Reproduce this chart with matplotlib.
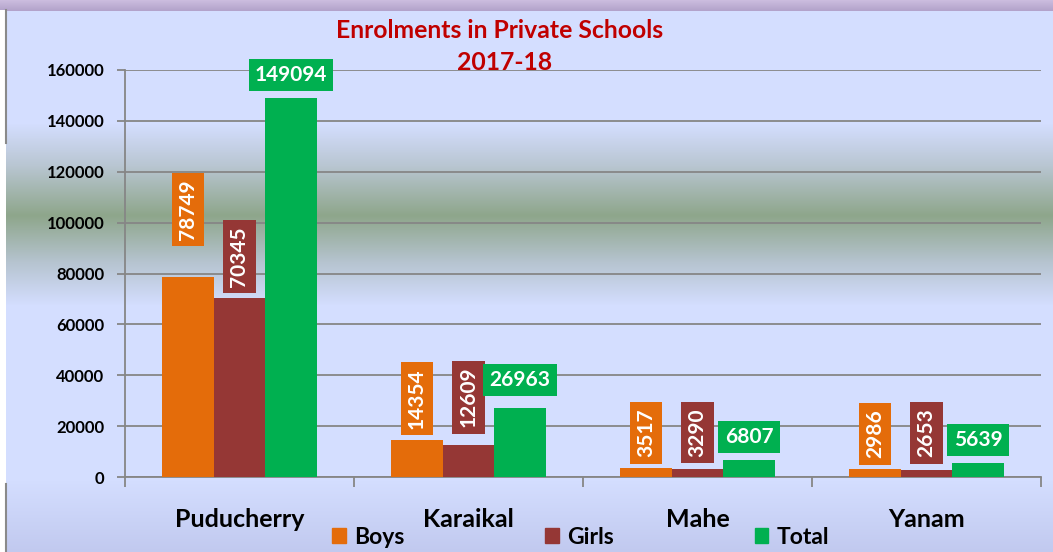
import numpy as np
import matplotlib
matplotlib.use("Agg")
import matplotlib.pyplot as plt
from matplotlib.colors import to_rgb
from matplotlib.patches import Patch

plt.rcParams['font.family'] = ['Lato', 'DejaVu Sans']

# === data ===
regions = ['Puducherry', 'Karaikal', 'Mahe', 'Yanam']
boys = [78749, 14354, 3517, 2986]
girls = [70345, 12609, 3290, 2653]
total = [149094, 26963, 6807, 5639]

# where Excel had the data labels dragged to (centre of the label box, data units)
lab_y_boys = [105000, 30700, 17300, 16900]
lab_y_girls = [86500, 31400, 17300, 17300]
lab_y_total = [158000, 38100, 15700, 14500]

c_boys = '#e46c0a'
c_girls = '#953735'
c_total = '#00b050'
c_grid = '#868686'

W, H = 1053, 552
fig = plt.figure(figsize=(W / 100, H / 100), dpi=100)

# background gradient (pixel row -> colour)
stops = [(0, '#cbbcde'), (10, '#b3a3cb'), (10.5, '#d4deff'), (123, '#d4deff'),
         (165, '#b9c6d2'), (215, '#8ea68b'), (262, '#b6c4d0'), (305, '#d4deff'),
         (480, '#d4deff'), (552, '#c1c9ef')]
ys = np.arange(H)
cols = np.array([to_rgb(c) for _, c in stops])
pos = [p for p, _ in stops]
grad = np.stack([np.interp(ys, pos, cols[:, k]) for k in range(3)], axis=1)
img = np.repeat(grad[:, None, :], W, axis=1)
img[10:, :6, :] = 1.0
bg = fig.add_axes([0, 0, 1, 1], zorder=-10)
bg.imshow(img, aspect='auto', extent=(0, W, H, 0))
bg.plot([6, 6], [10, 143], color='#8a8a8a', lw=1.5)
bg.plot([6, 6], [484, 552], color='#8a8a8a', lw=1.5)
bg.set_xlim(0, W)
bg.set_ylim(H, 0)
bg.axis('off')

ax = fig.add_axes([125 / W, 1 - 477 / H, (1041 - 125) / W, (477 - 70) / H])
ax.set_facecolor('none')

x = np.arange(len(regions))
bw = 0.225
ax.bar(x - bw, boys, bw, color=c_boys, zorder=3, label='Boys')
ax.bar(x, girls, bw, color=c_girls, zorder=3, label='Girls')
ax.bar(x + bw, total, bw, color=c_total, zorder=3, label='Total')

for i in range(len(regions)):
    ax.text(x[i] - bw, lab_y_boys[i], str(boys[i]), rotation=90, ha='center', va='center',
            color='white', fontsize=15, fontweight='bold', zorder=5,
            bbox=dict(boxstyle='square,pad=0.3', fc=c_boys, ec='none'))
    ax.text(x[i], lab_y_girls[i], str(girls[i]), rotation=90, ha='center', va='center',
            color='white', fontsize=15, fontweight='bold', zorder=5,
            bbox=dict(boxstyle='square,pad=0.3', fc=c_girls, ec='none'))
    ax.text(x[i] + bw, lab_y_total[i], str(total[i]), ha='center', va='center',
            color='white', fontsize=15, fontweight='bold', zorder=5,
            bbox=dict(boxstyle='square,pad=0.3', fc=c_total, ec='none'))

ax.set_xlim(-0.5, 3.5)
ax.set_ylim(0, 160000)
ax.set_yticks(np.arange(0, 160001, 20000))
ax.set_yticklabels([str(v) for v in range(0, 160001, 20000)], fontsize=12, fontweight='bold')
ax.grid(axis='y', color=c_grid, lw=1.3, zorder=0)
ax.set_xticks(x)
ax.set_xticklabels(regions, fontsize=18, fontweight='bold')
ax.set_xticks(np.arange(-0.5, 3.6, 1), minor=True)
ax.tick_params(axis='x', which='major', length=0, pad=22)
ax.tick_params(axis='x', which='minor', length=7, width=1.3, color=c_grid, direction='out')
ax.tick_params(axis='y', length=6, width=1.3, color=c_grid, pad=9)
for s in ['top', 'right']:
    ax.spines[s].set_visible(False)
for s in ['left', 'bottom']:
    ax.spines[s].set_color(c_grid)
    ax.spines[s].set_linewidth(1.3)

fig.text(500 / W, 1 - 30 / H, 'Enrolments in Private Schools', ha='center', va='center',
         color='#c00000', fontsize=17.8, fontweight='bold')
fig.text(505 / W, 1 - 62 / H, '2017-18', ha='center', va='center',
         color='#c00000', fontsize=17.8, fontweight='bold')

handles = [Patch(color=c_boys, label='Boys'), Patch(color=c_girls, label='Girls'),
           Patch(color=c_total, label='Total')]
leg = fig.legend(handles=handles, loc='center left', bbox_to_anchor=(332 / W, 1 - 537 / H),
                 ncol=3, frameon=False, borderpad=0, borderaxespad=0, handlelength=0.6,
                 handleheight=0.6, handletextpad=0.35, columnspacing=6.15,
                 prop={'size': 16.5, 'weight': 'bold'})

fig.savefig('out.png', dpi=100)
